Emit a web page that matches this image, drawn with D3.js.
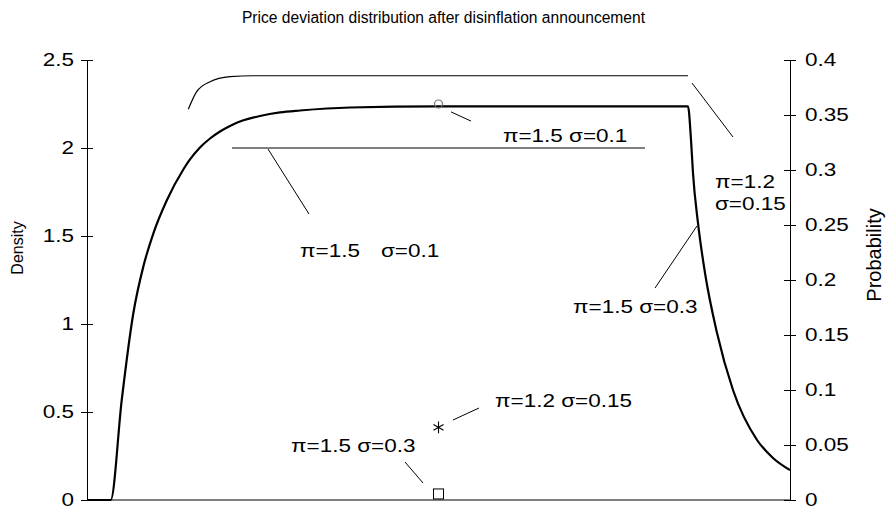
<!DOCTYPE html>
<html>
<head>
<meta charset="utf-8">
<script src="https://cdn.jsdelivr.net/npm/d3@7"></script>
<style>
  body { margin: 0; background: #fff; }
  text { font-family: "Liberation Sans", Arial, sans-serif; fill: #000; }
</style>
</head>
<body>
<div id="chart"></div>
<script>
var
  width = 887,
  height = 508;

// x position along the (unlabelled) price deviation axis, 0..1
var densityX = [0, 0.0337, 0.0494, 0.0659, 0.0801, 0.0943, 0.1134, 0.137, 0.1465, 0.1607, 0.175, 0.1892, 0.2034, 0.2176, 0.2319, 0.2461, 0.2745, 0.303, 0.3741, 0.4993, 0.6586, 0.8549,
  0.8592, 0.862, 0.8691, 0.8791, 0.8962, 0.9189, 0.9531, 0.9758, 1];
var densityY = [0, 0, 0.568, 1.061, 1.326, 1.514, 1.702, 1.878, 1.935, 2.003, 2.054, 2.094, 2.125, 2.151, 2.168, 2.182, 2.202, 2.213, 2.23, 2.236, 2.236, 2.236,
  2.045, 1.858, 1.574, 1.29, 0.949, 0.625, 0.341, 0.239, 0.17];

var probX = [0.1441, 0.156, 0.175, 0.2034, 0.2361, 0.8549];
var probY = [0.3552, 0.3712, 0.3803, 0.3848, 0.3857, 0.3857];

var flatX = [0.2063, 0.7937];
var flatY = [2, 2];

var markerX = 0.5;
var markerProb = [0.36, 0.066, 0.0055];   // circle, star, square
var markerShape = ["circle", "star", "square"];

var densityTicks = [0, 0.5, 1, 1.5, 2, 2.5];
var probTicks = [0, 0.05, 0.1, 0.15, 0.2, 0.25, 0.3, 0.35, 0.4];

// labels in (x, density) units
var labelText = ["π=1.5 σ=0.1", "π=1.5", "σ=0.1", "π=1.2", "σ=0.15", "π=1.5 σ=0.3", "π=1.2 σ=0.15", "π=1.5 σ=0.3"];
var labelX = [0.5917, 0.303, 0.4182, 0.8933, 0.8933, 0.6913, 0.5804, 0.2902];
var labelY = [2.034, 1.381, 1.381, 1.773, 1.648, 1.0625, 0.528, 0.274];

// leader lines: [x1, y1, x2, y2] in (x, density) units
var leaders = [
  [0.2575, 1.994, 0.3158, 1.625],
  [0.5178, 2.205, 0.5462, 2.153],
  [0.8606, 2.369, 0.9189, 2.0625],
  [0.8677, 1.557, 0.808, 1.2045],
  [0.5206, 0.4545, 0.5576, 0.5227],
  [0.4523, 0.2159, 0.478, 0.0966]
];

var margin = {top: 60, right: 97, bottom: 8, left: 87};
var w = width - margin.left - margin.right,
    h = height - margin.top - margin.bottom;
var stretch = 1.25;   // the reference glyphs are drawn wide

var svg = d3.select("#chart")
  .append("svg")
  .attr("width", width)
  .attr("height", height);

var g = svg.append("g")
  .attr("transform", "translate(" + margin.left + "," + margin.top + ")");

var x = d3.scaleLinear().domain([0, 1]).range([0, w]);
var y = d3.scaleLinear().domain([0, 2.5]).range([h, 0]);
var y2 = d3.scaleLinear().domain([0, 0.4]).range([h, 0]);

// axes
var left = g.append("g")
  .call(d3.axisLeft(y).tickValues(densityTicks).tickFormat(d3.format("")).tickSize(6).tickSizeOuter(0));
left.selectAll(".tick line").attr("x2", 6).attr("x1", -6);
left.selectAll(".tick text")
  .attr("x", -13 / stretch)
  .attr("transform", "scale(" + stretch + ",1)")
  .style("font-size", "18px");

var right = g.append("g")
  .attr("transform", "translate(" + w + ",0)")
  .call(d3.axisRight(y2).tickValues(probTicks).tickFormat(d3.format("")).tickSize(6).tickSizeOuter(0));
right.selectAll(".tick line").attr("x1", -6).attr("x2", 6);
right.selectAll(".tick text")
  .attr("x", 15 / stretch)
  .attr("transform", "scale(" + stretch + ",1)")
  .style("font-size", "18px");

svg.selectAll(".domain").attr("stroke", "#000");
svg.selectAll(".tick line").attr("stroke", "#000");

g.append("line")
  .attr("x1", 0).attr("x2", w)
  .attr("y1", h).attr("y2", h)
  .attr("stroke", "#000");

// curves
var lineD = d3.line()
  .x(function(d) { return x(d[0]); })
  .y(function(d) { return y(d[1]); })
  .curve(d3.curveMonotoneX);

var lineP = d3.line()
  .x(function(d) { return x(d[0]); })
  .y(function(d) { return y2(d[1]); })
  .curve(d3.curveMonotoneX);

g.append("path")
  .datum(d3.zip(densityX, densityY))
  .attr("d", lineD)
  .attr("fill", "none")
  .attr("stroke", "#000")
  .attr("stroke-width", 2.2);

g.append("path")
  .datum(d3.zip(probX, probY))
  .attr("d", lineP)
  .attr("fill", "none")
  .attr("stroke", "#000")
  .attr("stroke-width", 1.2);

g.append("path")
  .datum(d3.zip(flatX, flatY))
  .attr("d", lineD)
  .attr("fill", "none")
  .attr("stroke", "#000")
  .attr("stroke-width", 1.2);

// leader lines
g.selectAll(".leader")
  .data(leaders)
  .enter().append("line")
    .attr("class", "leader")
    .attr("x1", function(d) { return x(d[0]); })
    .attr("y1", function(d) { return y(d[1]); })
    .attr("x2", function(d) { return x(d[2]); })
    .attr("y2", function(d) { return y(d[3]); })
    .attr("stroke", "#000")
    .attr("stroke-width", 1);

// markers
markerShape.forEach(function(s, i) {
  var cx = x(markerX), cy = y2(markerProb[i]);
  if (s === "circle") {
    g.append("circle").attr("cx", cx).attr("cy", cy).attr("r", 4)
      .attr("fill", "none").attr("stroke", "#777").attr("stroke-width", 1.2);
  } else if (s === "square") {
    g.append("rect").attr("x", cx - 5).attr("y", cy - 5).attr("width", 10).attr("height", 10)
      .attr("fill", "none").attr("stroke", "#000").attr("stroke-width", 1);
  } else {
    g.append("path")
      .attr("transform", "translate(" + cx + "," + cy + ")")
      .attr("d", d3.symbol().type(d3.symbolAsterisk).size(95))
      .attr("fill", "none").attr("stroke", "#000").attr("stroke-width", 1.1);
  }
});

// labels
g.selectAll(".lbl")
  .data(labelText)
  .enter().append("text")
    .attr("class", "lbl")
    .attr("transform", function(d, i) {
      return "translate(" + x(labelX[i]) + "," + y(labelY[i]) + ") scale(" + stretch + ",1)";
    })
    .style("font-size", "18px")
    .text(function(d) { return d; });

// titles
svg.append("text")
  .attr("x", width / 2).attr("y", 23)
  .attr("text-anchor", "middle")
  .style("font-size", "15.6px")
  .text("Price deviation distribution after disinflation announcement");

svg.append("text")
  .attr("transform", "translate(23," + (margin.top + h / 2 - 32) + ") rotate(-90)")
  .attr("text-anchor", "middle")
  .style("font-size", "16px")
  .text("Density");

svg.append("text")
  .attr("transform", "translate(881," + (margin.top + h / 2 - 25) + ") rotate(-90)")
  .attr("text-anchor", "middle")
  .style("font-size", "20px")
  .text("Probability");
</script>
</body>
</html>
